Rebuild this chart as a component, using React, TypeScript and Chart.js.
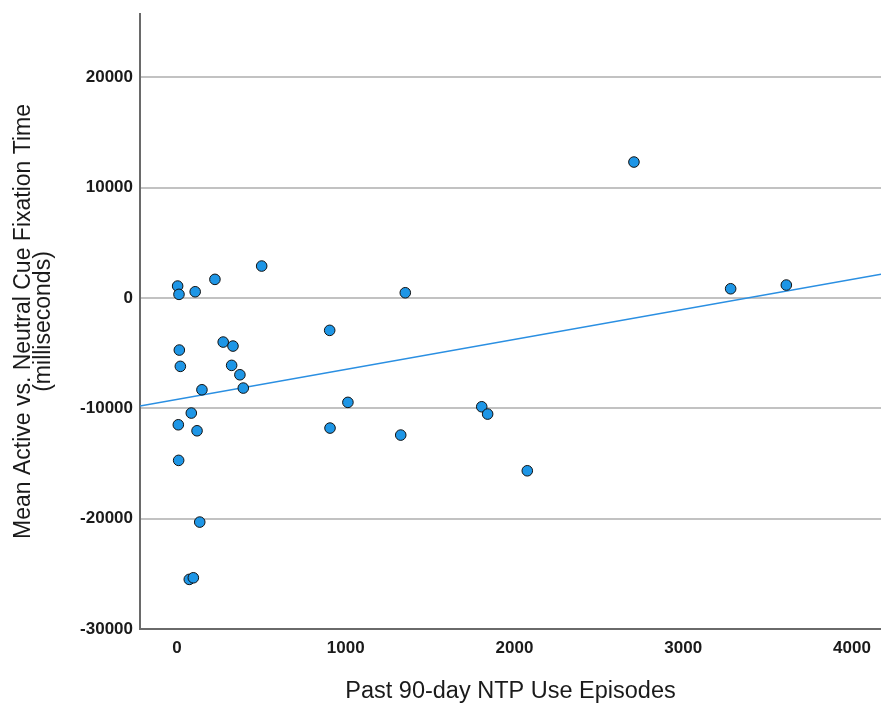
import React, { useEffect, useRef } from "react";
import { Chart, registerables } from "chart.js";

Chart.register(...registerables);

// Past 90-day NTP use episodes (x) and mean fixation time difference (y)
const episodes = [
  4, 12, 108, 225, 502, 14, 20, 274, 332, 324, 373, 148, 393, 85, 8, 119, 10,
  135, 73, 97, 1353, 905, 1013, 907, 1326, 1806, 1841, 2076, 2708, 3281, 3611,
];
const fixationDiff = [
  1088, 335, 571, 1695, 2901, -4714, -6192, -3989, -4352, -6102, -6954, -8314,
  -8160, -10426, -11487, -12031, -14714, -20308, -25503, -25358, 480, -2928,
  -9456, -11786, -12421, -9855, -10517, -15657, 12330, 843, 1179,
];

// Fit line end points
const fitX = [-219, 4172];
const fitY = [-9786, 2162];

// Tick values
const xTicks = [0, 1000, 2000, 3000, 4000];
const yTicks = [-30000, -20000, -10000, 0, 10000, 20000];

const xTitle = "Past 90-day NTP Use Episodes";
const yTitle = ["Mean Active vs. Neutral Cue Fixation Time", "(milliseconds)"];

export default function App() {
  const ref = useRef<HTMLCanvasElement | null>(null);

  useEffect(() => {
    if (!ref.current) return;
    const points = episodes.map((x, i) => ({ x, y: fixationDiff[i] }));
    const line = fitX.map((x, i) => ({ x, y: fitY[i] }));
    const family = "'Liberation Sans', Arial, sans-serif";
    const tickFont = { family, size: 17, weight: "bold" as const };
    const chart = new Chart(ref.current, {
      type: "scatter",
      data: {
        datasets: [
          {
            type: "scatter",
            data: points,
            backgroundColor: "#1e96e6",
            borderColor: "#111111",
            borderWidth: 1,
            pointRadius: 5.3,
            order: 0,
          },
          {
            type: "line",
            data: line,
            borderColor: "#2a8fe2",
            borderWidth: 1.5,
            pointRadius: 0,
            fill: false,
            order: 1,
          } as any,
        ],
      },
      options: {
        responsive: false,
        animation: false,
        layout: { autoPadding: false, padding: { top: 14, left: 0, right: 0, bottom: 0 } },
        plugins: {
          legend: { display: false },
          tooltip: { enabled: false },
        },
        scales: {
          x: {
            type: "linear",
            min: -219,
            max: 4172,
            afterBuildTicks: (s: any) => {
              s.ticks = xTicks.map((v) => ({ value: v }));
            },
            afterFit: (s: any) => {
              s.height = 75;
              s.paddingLeft = 0;
              s.paddingRight = 0;
            },
            ticks: {
              font: tickFont,
              color: "#1a1a1a",
              padding: 9,
              maxRotation: 0,
              autoSkip: false,
              callback: (v: any) => String(v),
            },
            grid: { display: false, drawTicks: false },
            border: { display: true, color: "#6a6a6a", width: 2 },
            title: {
              display: true,
              text: xTitle,
              font: { family, size: 23.5, weight: "normal" as const, lineHeight: 1.0 },
              color: "#1a1a1a",
              padding: { top: 0, bottom: 1 },
            },
          },
          y: {
            type: "linear",
            min: -30000,
            max: 25750,
            afterBuildTicks: (s: any) => {
              s.ticks = yTicks.map((v) => ({ value: v }));
            },
            afterFit: (s: any) => {
              s.width = 140;
              s.paddingTop = 0;
              s.paddingBottom = 0;
            },
            ticks: {
              font: tickFont,
              color: "#1a1a1a",
              padding: 7,
              autoSkip: false,
              callback: (v: any) => String(v),
            },
            grid: { color: "#c2c2c2", lineWidth: 2, drawTicks: false },
            border: { display: true, color: "#6a6a6a", width: 2 },
            title: {
              display: true,
              text: yTitle,
              font: { family, size: 23, weight: "normal" as const, lineHeight: 0.9 },
              color: "#1a1a1a",
              padding: { top: 13, bottom: 0 },
            },
          },
        },
      },
    });
    return () => chart.destroy();
  }, []);

  return (
    <div style={{ position: "fixed", left: 0, top: 0, width: 881, height: 704, background: "#ffffff" }}>
      <canvas ref={ref} width={881} height={704} style={{ width: 881, height: 704 }} />
    </div>
  );
}
